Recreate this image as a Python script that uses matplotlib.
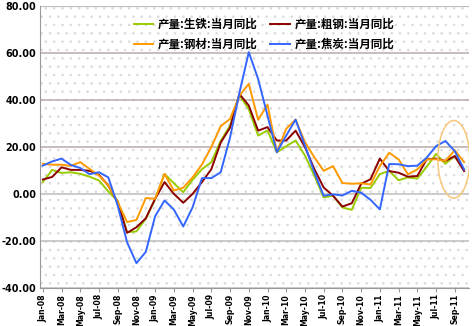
import matplotlib
matplotlib.use("Agg")
import matplotlib.pyplot as plt
from matplotlib.patches import Ellipse, Rectangle
import numpy as np
import pandas as pd

plt.rcParams['font.family'] = ['Noto Sans CJK SC', 'DejaVu Sans']
plt.rcParams['hatch.linewidth'] = 0.6

months = pd.date_range("2008-01-01", "2011-10-01", freq="MS")
month_labels = [d.strftime("%b-%y") for d in months]

pig_iron = [5.0, 10.2, 8.9, 9.2, 8.5, 7.3, 5.7, 1.0, -3.0, -16.3, -16.0, -10.6,
            -2.1, 8.5, 4.5, 0.7, 6.0, 10.5, 13.5, 22.5, 29.0, 42.0, 36.0, 24.8,
            27.0, 17.7, 20.3, 22.7, 16.3, 7.8, -1.5, -0.8, -5.8, -6.8, 2.6, 2.5,
            8.4, 9.8, 5.8, 7.0, 6.5, 11.5, 17.0, 12.8, 16.1, 10.4]
crude_steel = [6.1, 7.2, 11.3, 10.2, 10.2, 9.8, 8.1, 3.5, -3.6, -16.6, -14.2, -10.4,
               -2.1, 5.0, 0.0, -3.8, 0.0, 5.0, 10.5, 21.8, 28.2, 42.5, 37.6, 26.9,
               28.4, 22.7, 22.7, 26.9, 19.9, 10.6, 2.7, -0.8, -5.4, -4.0, 4.3, 6.2,
               15.0, 9.7, 9.0, 7.3, 7.6, 14.7, 15.0, 14.0, 16.1, 9.7]
steel_products = [12.8, 12.4, 12.4, 11.9, 13.5, 10.6, 7.8, 3.5, -3.6, -12.0, -11.1, -1.8,
                  -2.1, 8.5, 1.4, 2.6, 7.0, 12.5, 19.9, 28.8, 31.9, 41.8, 46.8, 31.5,
                  38.0, 17.7, 27.7, 31.6, 22.0, 15.6, 9.8, 11.8, 4.6, 4.3, 4.5, 4.0,
                  11.8, 17.5, 14.7, 8.3, 10.4, 14.7, 14.7, 14.0, 18.6, 13.5]
coke = [12.0, 13.8, 15.0, 12.3, 11.0, 8.4, 9.2, 7.0, -5.0, -20.6, -29.5, -24.7,
        -9.5, -2.8, -6.7, -13.9, -5.7, 6.7, 6.7, 9.2, 24.0, 43.0, 60.3, 48.9,
        33.3, 17.7, 24.8, 31.6, 20.6, 9.2, -0.8, -0.2, -0.7, 1.3, 0.5, -2.5,
        -6.6, 12.7, 12.6, 11.8, 12.0, 15.4, 20.3, 22.5, 18.2, 10.4]

series_names = ["产量:生铁:当月同比", "产量:粗钢:当月同比", "产量:钢材:当月同比", "产量:焦炭:当月同比"]
series_colors = ["#99CC00", "#8B0000", "#FF9900", "#3366FF"]
yticks = [-40, -20, 0, 20, 40, 60, 80]

fig = plt.figure(figsize=(4.74, 3.26), dpi=100)
ax = fig.add_axes([0.084, 0.117, 0.905, 0.865])

x = np.arange(len(months))
ax.set_xlim(-0.32, len(months) - 0.5)
ax.set_ylim(-40, 80)

# dotted background
bg = Rectangle((0, 0), 1, 1, transform=ax.transAxes, fill=False, hatch='..',
               edgecolor='#dadada', lw=0, zorder=0)
ax.add_patch(bg)

for v in yticks:
    col = '#b9abab' if v in (20, 40, 60) else '#bdbdbd'
    ax.axhline(v, color=col, lw=1.6 if v == 80 else 1.1, zorder=1)

data = [pig_iron, crude_steel, steel_products, coke]
lines = []
for i, (vals, name, col) in enumerate(zip(data, series_names, series_colors)):
    ln, = ax.plot(x, vals, color=col, lw=1.4, label=name, zorder=3 + i)
    lines.append(ln)

# highlight ellipse
ell_center = (43.9, 14.7)
ell_w, ell_h = 3.4, 33.0
ax.add_patch(Ellipse(ell_center, ell_w, ell_h, fill=False, edgecolor='#F7C77A', lw=1.1, zorder=8))

for s in ['top', 'right']:
    ax.spines[s].set_visible(False)
ax.spines['left'].set_color('#999999')
ax.spines['bottom'].set_color('#999999')

ax.set_yticks(yticks)
ax.set_yticklabels([f"{v:.2f}" for v in yticks], fontsize=6.9, fontweight='bold',
                   family='DejaVu Sans')
ax.tick_params(axis='y', length=0, pad=2.5)
ax.set_xticks(x[::2])
ax.set_xticklabels(month_labels[::2], rotation=90, fontsize=5.6, fontweight='bold',
                   family='DejaVu Sans')
ax.tick_params(axis='x', length=3, color='#999999', pad=1.5)

# legend: row 1 生铁, 粗钢; row 2 钢材, 焦炭 (column-major fill)
ax.legend(handles=[lines[0], lines[2], lines[1], lines[3]], ncol=2, frameon=False,
          loc='upper left', bbox_to_anchor=(0.195, 0.995),
          prop={'family': ['Noto Sans CJK SC', 'DejaVu Sans'], 'size': 8.3, 'weight': 'bold'},
          handlelength=1.7, columnspacing=1.1, labelspacing=0.6, handletextpad=0.4)

fig.savefig("out.png", dpi=100, facecolor='white')
